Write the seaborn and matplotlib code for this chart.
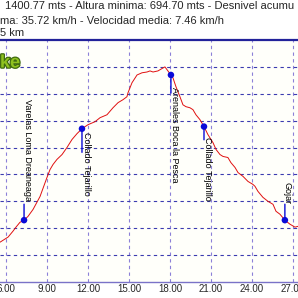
import seaborn as sns
import matplotlib.pyplot as plt
import matplotlib.patheffects as pe
import pandas as pd

# elevation profile (km, m)
dist_km = [5.56, 6.15, 6.51, 6.73, 7.02, 7.32, 7.61, 7.98, 8.49, 9.00, 9.22, 9.44,
           9.73, 10.10, 10.46, 10.83, 11.20, 11.56, 12.00, 12.51, 12.88, 13.39, 13.83,
           14.20, 14.56, 14.85, 14.93, 15.22, 15.59, 15.95, 16.32, 16.54, 16.76, 17.12,
           17.49, 17.63, 17.85, 18.07, 18.22, 18.44, 18.73, 18.95, 19.17, 19.46, 19.68,
           19.90, 20.19, 20.49, 20.78, 21.15, 21.37, 21.66, 21.88, 22.24, 22.46, 22.76,
           22.98, 23.34, 23.71, 24.07, 24.22, 24.44, 24.80, 25.17, 25.54, 25.76, 26.05,
           26.41, 26.78, 27.15, 27.37]
elev_m = [748, 767, 789, 804, 822, 830, 844, 870, 918, 989, 1018, 1037,
          1056, 1074, 1100, 1130, 1152, 1170, 1185, 1196, 1211, 1222, 1248,
          1267, 1278, 1289, 1304, 1341, 1370, 1378, 1381, 1385, 1381, 1385,
          1396, 1400, 1385, 1370, 1359, 1326, 1289, 1259, 1252, 1248, 1241,
          1222, 1204, 1178, 1148, 1118, 1093, 1074, 1067, 1063, 1044, 1026,
          1007, 993, 974, 963, 956, 937, 915, 900, 889, 863, 852,
          830, 815, 804, 807]

# waypoints
wp_km = [7.32, 11.56, 18.07, 20.49, 26.41]
wp_elev = [830, 1170, 1370, 1178, 830]
wp_names = ['Varelas Loma Dreaneaga', 'Collado Tejarillo', 'Arenales Boca la Pesca',
            'Collado Tejarillo', 'Gojar']

x_ticks = [6, 9, 12, 15, 18, 21, 24, 27]
y_grid = [700, 800, 900, 1000, 1100, 1200, 1300, 1400]

title_lines = ['1400.77 mts - Altura minima: 694.70 mts - Desnivel acumu',
               'ma: 35.72 km/h - Velocidad media: 7.46 km/h',
               '5 km']

sns.set_style('white')
plt.rcParams['font.family'] = ['Liberation Sans', 'DejaVu Sans']

fig = plt.figure(figsize=(2.98, 2.98), dpi=100)
ax = fig.add_axes([0, 16/298, 1, 242/298])
ax.set_facecolor('#fffffa')

df = pd.DataFrame({'km': dist_km, 'elev': elev_m})
sns.lineplot(data=df, x='km', y='elev', ax=ax, color='#e01010', lw=0.7, zorder=3)

wp = pd.DataFrame({'km': wp_km, 'elev': wp_elev})
sns.scatterplot(data=wp, x='km', y='elev', ax=ax, color='#0a0ad8', s=22,
                edgecolor='none', zorder=5)

# label offsets (points): dx, dy, stem length
offs = [(2.2, 13.7, 11.5), (2.9, -2.2, -17), (2.9, -8.6, -13), (2.2, -7.2, -9.5), (1.4, 11.5, 11.5)]
for k, e, name, (dx, dy, stem) in zip(wp_km, wp_elev, wp_names, offs):
    ax.annotate('', xy=(k, e), xytext=(0, stem), textcoords='offset points',
                arrowprops=dict(arrowstyle='-', color='#0a0ad8', lw=1.0,
                                shrinkA=0, shrinkB=0), zorder=4)
    ax.annotate(name, xy=(k, e), xytext=(dx, dy), textcoords='offset points',
                rotation=270, ha='center', va='bottom' if dy > 0 else 'top',
                fontsize=6.5, color='black', zorder=6)

ax.set_xlim(5.56, 27.37)
ax.set_ylim(600, 1500)
ax.set_xticks(x_ticks)
ax.set_xticklabels(['%.2f' % t for t in x_ticks], fontsize=7)
ax.set_yticks(y_grid)
ax.set_yticklabels([])
ax.tick_params(axis='both', length=0, pad=1.5)
ax.set_xlabel('')
ax.set_ylabel('')

ax.yaxis.grid(True, color='#3b3bb0', ls=(0, (3, 3)), lw=0.8)
ax.xaxis.grid(True, color='#8c80d8', ls=(0, (3, 3)), lw=0.8)

for s in ['left', 'right']:
    ax.spines[s].set_visible(False)
ax.spines['top'].set_color('#22229a')
ax.spines['top'].set_linewidth(1.6)
ax.spines['bottom'].set_color('#7a72c8')
ax.spines['bottom'].set_linewidth(1.0)

# header text (cut off at the left like the source)
fig.text(5/298, 1 - 6/298, title_lines[0], fontsize=8, va='center', ha='left')
fig.text(0, 1 - 20.5/298, title_lines[1], fontsize=8, va='center', ha='left')
fig.text(0, 1 - 32.5/298, title_lines[2], fontsize=8, va='center', ha='left')

# bit of the logo
fig.text(0, 1 - 63/298, 'ke', fontsize=13, fontweight='bold', color='#8fc21f',
         ha='left', va='center',
         path_effects=[pe.withStroke(linewidth=1.8, foreground='#3f6a10')])

fig.savefig('out.png', dpi=100)
